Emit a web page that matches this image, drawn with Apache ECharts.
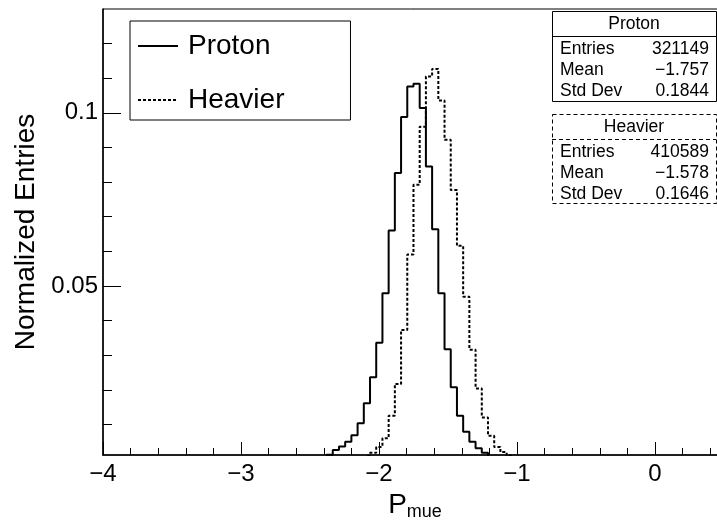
<!DOCTYPE html>
<html><head><meta charset="utf-8">
<script src="https://cdn.jsdelivr.net/npm/echarts@6/dist/echarts.min.js"></script>
<style>html,body{margin:0;padding:0;background:#fff}#c{width:717px;height:520px}</style>
</head><body><div id="c"></div>
<script>
// ---- data ----
const BIN_WIDTH = 0.045;
const protonFirstEdge = -2.38;
const protonValues = [0.0012,0.0026,0.0036,0.0050,0.0069,0.0103,0.0161,0.0236,0.0336,0.0479,0.0660,0.0826,0.0988,0.1076,0.1084,0.1014,0.0845,0.0664,0.0479,0.0317,0.0207,0.0125,0.0079,0.0050,0.0031,0.0018];
const heavierFirstEdge = -2.155;
const heavierValues = [0.0005,0.0010,0.0018,0.0035,0.0060,0.0125,0.0217,0.0373,0.0591,0.0792,0.0960,0.1105,0.1127,0.1036,0.0922,0.0777,0.0616,0.0469,0.0316,0.0204,0.0120,0.0067,0.0035,0.0020,0.0010];
const seriesNames = ['Proton', 'Heavier'];
const xMajorTicks = [-4, -3, -2, -1, 0];
const xMinorTicks = [-3.8,-3.6,-3.4,-3.2,-2.8,-2.6,-2.4,-2.2,-1.8,-1.6,-1.4,-1.2,-0.8,-0.6,-0.4,-0.2,0.2,0.4];
const yMajorTicks = [0.05, 0.1];
const yMinorTicks = [0.01,0.02,0.03,0.04,0.06,0.07,0.08,0.09,0.11,0.12];
const xRange = [-4, 0.464];
const yRange = [0.00116, 0.13];
const statLabels = ['Entries', 'Mean', 'Std Dev'];
const protonStats = ['321149', '\u22121.757', '0.1844'];
const heavierStats = ['410589', '\u22121.578', '0.1646'];
const xTitle = ['P', 'mue'];
const yTitle = 'Normalized Entries';

// ---- build ----
const FONT = '"Liberation Sans", Arial, Helvetica, sans-serif';
function steps(first, vals) {
  const pts = [[first, 0]];
  vals.forEach((v, i) => {
    const l = first + i * BIN_WIDTH;
    pts.push([l, v], [l + BIN_WIDTH, v]);
  });
  pts.push([first + vals.length * BIN_WIDTH, 0]);
  return pts;
}
function fmtX(v) { return v < 0 ? '\u2212' + Math.abs(v) : String(v); }

function statBox(left, top, w, h, title, vals, dashed) {
  const dash = dashed ? [4, 3] : null;
  const els = [
    {type: 'rect', shape: {x: left + 0.5, y: top + 0.5, width: w, height: h},
     style: {fill: '#fff', stroke: '#000', lineWidth: 1, lineDash: dash}, z: 100},
    {type: 'line', shape: {x1: left, y1: top + 25.5, x2: left + w, y2: top + 25.5},
     style: {stroke: '#000', lineWidth: 1, lineDash: dash}, z: 101},
    {type: 'text', x: left + w / 2, y: top + 13.5, z: 101,
     style: {text: title, fill: '#000', fontSize: 17.5, fontFamily: FONT, align: 'center', verticalAlign: 'middle', textAlign: 'center', textVerticalAlign: 'middle'}}
  ];
  statLabels.forEach((lab, i) => {
    const y = top + 38.5 + i * 21;
    els.push({type: 'text', x: left + 8, y: y, z: 101,
      style: {text: lab, fill: '#000', fontSize: 17.5, fontFamily: FONT, align: 'left', verticalAlign: 'middle', textAlign: 'left', textVerticalAlign: 'middle'}});
    els.push({type: 'text', x: left + w - 7, y: y, z: 101,
      style: {text: vals[i], fill: '#000', fontSize: 17.5, fontFamily: FONT, align: 'right', verticalAlign: 'middle', textAlign: 'right', textVerticalAlign: 'middle'}});
  });
  return els;
}

const chart = echarts.init(document.getElementById('c'), null, {renderer: 'canvas'});
chart.setOption({
  animation: false,
  backgroundColor: '#fff',
  grid: {left: 103, top: 9, right: -2, bottom: 65, show: true, borderColor: '#000', borderWidth: 1,
         containLabel: false, outerBoundsMode: 'none'},
  xAxis: [
    {type: 'value', min: xRange[0], max: xRange[1], position: 'bottom',
     axisLine: {show: true, onZero: false, lineStyle: {color: '#000', width: 1.5}},
     axisTick: {show: true, inside: true, length: 13, customValues: xMajorTicks, lineStyle: {color: '#000', width: 1}},
     axisLabel: {show: true, customValues: xMajorTicks, formatter: fmtX, color: '#000', fontSize: 24, fontFamily: FONT, margin: 7},
     splitLine: {show: false},
     name: '{p|' + xTitle[0] + '}{s|' + xTitle[1] + '}', nameLocation: 'middle', nameGap: 33,
     nameTextStyle: {color: '#000', fontFamily: FONT, padding: [0, 0, 0, 8],
       rich: {p: {fontSize: 28, fontFamily: FONT, color: '#000'}, s: {fontSize: 18, fontFamily: FONT, color: '#000', padding: [14, 0, 0, 0]}}}},
    {type: 'value', min: xRange[0], max: xRange[1], position: 'bottom',
     axisLine: {show: false, onZero: false},
     axisTick: {show: true, inside: true, length: 7, customValues: xMinorTicks, lineStyle: {color: '#000', width: 1}},
     axisLabel: {show: false}, splitLine: {show: false}}
  ],
  yAxis: [
    {type: 'value', min: yRange[0], max: yRange[1], position: 'left',
     axisLine: {show: true, onZero: false, lineStyle: {color: '#000', width: 1.5}},
     axisTick: {show: true, inside: true, length: 18, customValues: yMajorTicks, lineStyle: {color: '#000', width: 1}},
     axisLabel: {show: true, customValues: yMajorTicks, formatter: v => String(v), color: '#000', fontSize: 24, fontFamily: FONT, margin: 5},
     splitLine: {show: false},
     name: yTitle, nameLocation: 'middle', nameGap: 53,
     nameTextStyle: {color: '#000', fontSize: 28, fontFamily: FONT}},
    {type: 'value', min: yRange[0], max: yRange[1], position: 'left',
     axisLine: {show: false, onZero: false},
     axisTick: {show: true, inside: true, length: 9, customValues: yMinorTicks, lineStyle: {color: '#000', width: 1}},
     axisLabel: {show: false}, splitLine: {show: false}}
  ],
  legend: {show: true, orient: 'vertical', left: 130, top: 21, data: seriesNames,
    itemWidth: 40, itemHeight: 14, itemGap: 26, padding: [11, 66, 6, 7],
    borderColor: '#000', borderWidth: 1, backgroundColor: '#fff',
    itemStyle: {opacity: 0},
    textStyle: {fontSize: 28, fontFamily: FONT, color: '#000', padding: [0, 0, 0, 5]}},
  series: [
    {type: 'line', name: seriesNames[0], data: steps(protonFirstEdge, protonValues), symbol: 'none',
     xAxisIndex: 0, yAxisIndex: 0, clip: true,
     lineStyle: {color: '#000', width: 2, type: 'solid'}, itemStyle: {color: '#000'}},
    {type: 'line', name: seriesNames[1], data: steps(heavierFirstEdge, heavierValues), symbol: 'none',
     xAxisIndex: 0, yAxisIndex: 0, clip: true,
     lineStyle: {color: '#000', width: 2, type: [3, 2]}, itemStyle: {color: '#000'}}
  ],
  graphic: {elements: [
    ...statBox(552, 11, 164, 90, seriesNames[0], protonStats, false),
    ...statBox(552, 114, 164, 89, seriesNames[1], heavierStats, true)
  ]}
});
</script></body></html>
